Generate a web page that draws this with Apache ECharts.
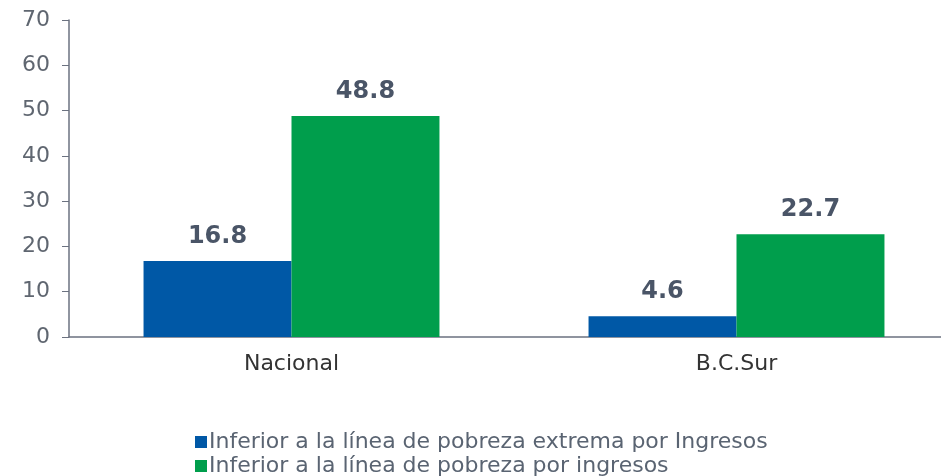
<!DOCTYPE html>
<html>
<head>
<meta charset="utf-8">
<script src="https://cdn.jsdelivr.net/npm/echarts@6/dist/echarts.min.js"></script>
<style>
  html, body { margin: 0; padding: 0; background: #fff; }
  #bar { width: 941px; height: 476px; }
</style>
</head>
<body>
<div id="bar"></div>
<script>
var categories = ['Nacional', 'B.C.Sur'];
var extremaValues = [16.8, 4.6];
var pobrezaValues = [48.8, 22.7];
var seriesNames = ['Inferior a la línea de pobreza extrema por Ingresos', 'Inferior a la línea de pobreza por ingresos'];

var dom = document.getElementById('bar');
var myChart = echarts.init(dom);
var font = 'DejaVu Sans';

var labelStyle = {
    show: true,
    position: 'top',
    distance: 12,
    color: '#4a5567',
    fontSize: 24,
    fontWeight: 'bold',
    fontFamily: font
};

// 两个图例分开放, 一行一个
function legendRow(name, top) {
    return {
        left: 190,
        top: top,
        itemWidth: 12,
        itemHeight: 12,
        icon: 'rect',
        textStyle: { color: '#5a6472', fontSize: 22, fontFamily: font, padding: [0, 0, 0, -3] },
        data: [name]
    };
}

option = {
    color: ['#0058a6', '#009e4c'],
    animation: false,
    textStyle: { fontFamily: font },
    legend: [legendRow(seriesNames[0], 426), legendRow(seriesNames[1], 450)],
    grid: {
        left: 69,
        top: 20,
        width: 890,
        height: 317,
        outerBoundsMode: 'none'
    },
    xAxis: {
        type: 'category',
        data: categories,
        axisLine: { lineStyle: { color: '#6b7280', width: 1.5 } },
        axisTick: { show: false },
        axisLabel: { color: '#333', fontSize: 22, fontFamily: font, margin: 16 }
    },
    yAxis: {
        type: 'value',
        min: 0,
        max: 70,
        interval: 10,
        splitLine: { show: false },
        axisLine: { show: true, lineStyle: { color: '#6b7280', width: 1.5 } },
        axisTick: { show: true, length: 7, lineStyle: { color: '#6b7280' } },
        axisLabel: { color: '#5f6670', fontSize: 22, fontFamily: font, margin: 19 }
    },
    series: [
        {
            name: seriesNames[0],
            type: 'bar',
            barGap: 0,
            barCategoryGap: '33.5%',
            data: extremaValues,
            label: labelStyle
        },
        {
            name: seriesNames[1],
            type: 'bar',
            data: pobrezaValues,
            label: labelStyle
        }
    ]
};
if (option && typeof option === 'object') {
    myChart.setOption(option, true);
}
</script>
</body>
</html>
